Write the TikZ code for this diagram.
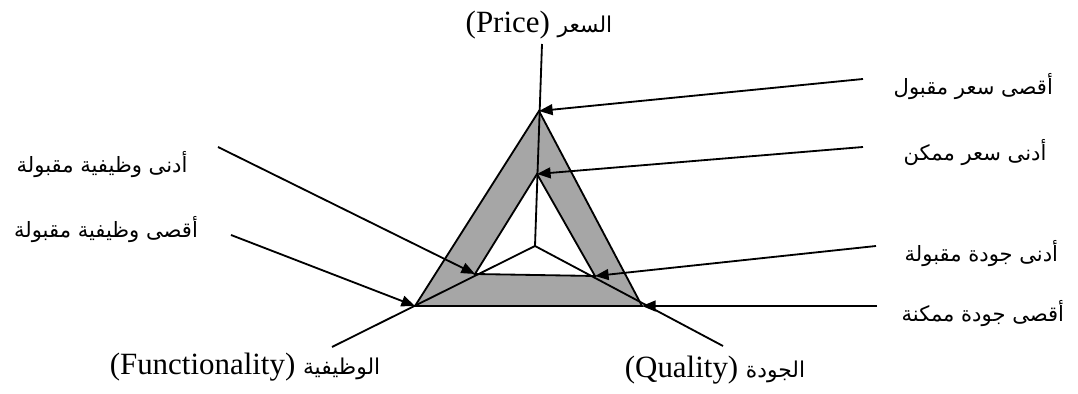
\documentclass[tikz,border=0pt]{standalone}
\usepackage{fontspec}
\setmainfont{Liberation Serif}
\newfontfamily\arabicfont[Script=Arabic]{DejaVu Sans}
\TeXXeTstate=1
\usetikzlibrary{arrows.meta}
\definecolor{bandgray}{HTML}{A6A6A6}
\newcommand{\arsmall}{\arabicfont\fontsize{15.5}{18}\selectfont}

\begin{document}
\begin{tikzpicture}[
  every node/.style={font=\fontsize{22}{25}\selectfont, inner sep=1pt},
  axislbl/.style={anchor=center},
  limitlbl/.style={font=\fontsize{15}{18}\selectfont\arabicfont},
  ptr/.style={line width=1.3pt, -{Triangle[length=3.4mm, width=2.7mm]}},
  edge/.style={line width=1.3pt, line join=miter},
]
\useasboundingbox (0,0) rectangle (26.95,9.85);

\coordinate (C) at (13.375, 3.70);
\coordinate (Ptop) at (13.55, 8.75);
\coordinate (Fend) at (8.30, 1.175);
\coordinate (Qend) at (18.075, 1.20);
\coordinate (Pout) at (13.475, 7.075);
\coordinate (Pin) at (13.425, 5.50);
\coordinate (Fout) at (10.375, 2.20);
\coordinate (Fin) at (11.875, 3.00);
\coordinate (Qout) at (16.05, 2.20);
\coordinate (Qin) at (14.875, 2.95);

\fill[bandgray, even odd rule] (Pout) -- (Fout) -- (Qout) -- cycle (Pin) -- (Fin) -- (Qin) -- cycle;
\draw[edge] (Pout) -- (Fout) -- (Qout) -- cycle;
\draw[edge] (Pin) -- (Fin) -- (Qin) -- cycle;
\draw[edge] (C) -- (Ptop);
\draw[edge] (C) -- (Fend);
\draw[edge] (C) -- (Qend);

\node[axislbl] (price) at (13.475, 9.225) {(Price) {\arsmall\beginR السعر\endR}};
\node[axislbl] (func) at (6.125, 0.675) {(Functionality) {\arsmall\beginR الوظيفية\endR}};
\node[axislbl] (qual) at (17.875, 0.60) {(Quality) {\arsmall\beginR الجودة\endR}};

\node[limitlbl, anchor=west] (pmax) at (22.30, 7.675) {\beginR أقصى سعر مقبول\endR};
\node[limitlbl, anchor=west] (pmin) at (22.55, 6.025) {\beginR أدنى سعر ممكن\endR};
\node[limitlbl, anchor=west] (qmin) at (22.575, 3.50) {\beginR أدنى جودة مقبولة\endR};
\node[limitlbl, anchor=west] (qmax) at (22.50, 2.00) {\beginR أقصى جودة ممكنة\endR};
\node[limitlbl] (fmin) at (2.55, 5.725) {\beginR أدنى وظيفية مقبولة\endR};
\node[limitlbl] (fmax) at (2.65, 4.10) {\beginR أقصى وظيفية مقبولة\endR};

\coordinate (pmaxend) at (21.575, 7.875);
\coordinate (pminend) at (21.575, 6.175);
\coordinate (qminend) at (21.90, 3.70);
\coordinate (qmaxend) at (21.925, 2.20);
\coordinate (fminend) at (5.45, 6.175);
\coordinate (fmaxend) at (5.775, 3.975);

\draw[ptr] (pmaxend) -- (Pout);
\draw[ptr] (pminend) -- (Pin);
\draw[ptr] (qminend) -- (Qin);
\draw[ptr] (qmaxend) -- (Qout);
\draw[ptr] (fminend) -- (Fin);
\draw[ptr] (fmaxend) -- (Fout);
\end{tikzpicture}
\end{document}
